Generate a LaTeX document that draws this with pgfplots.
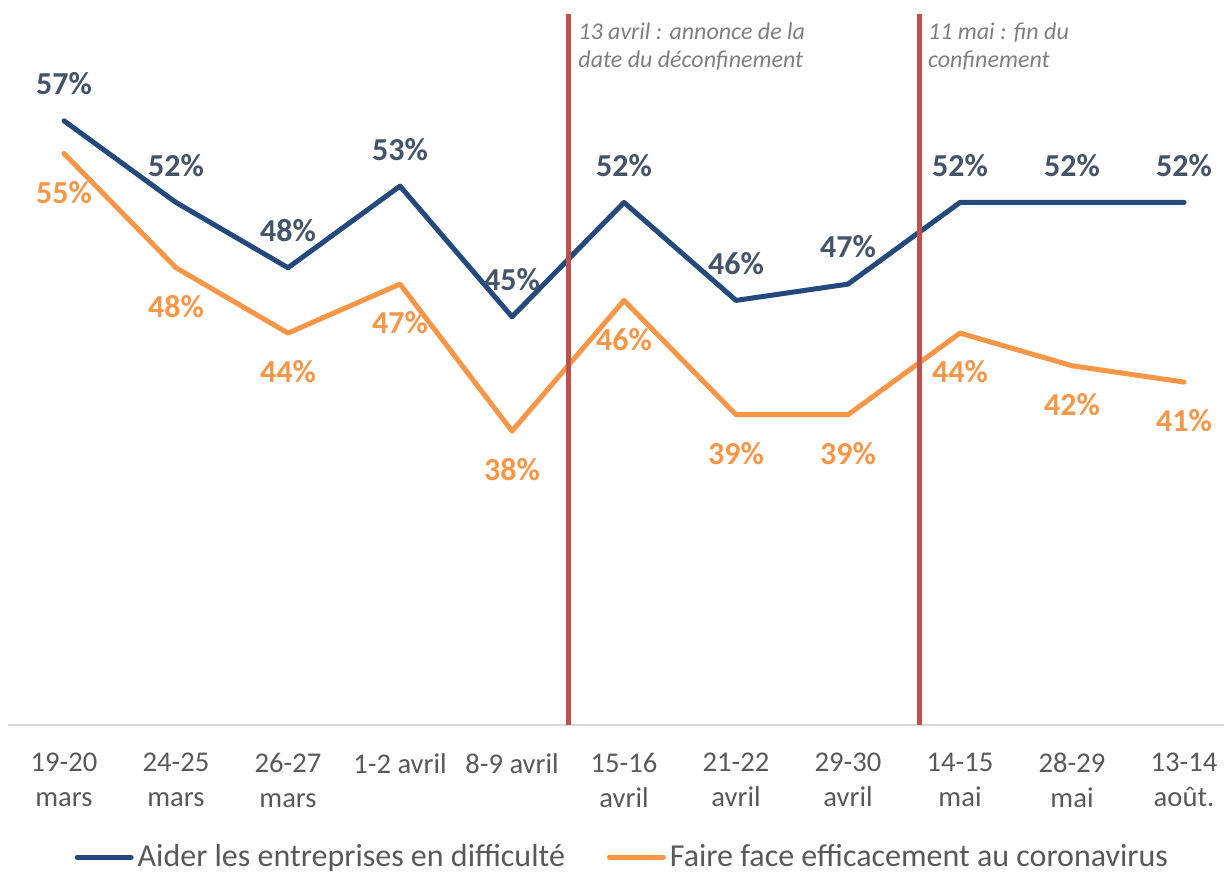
\documentclass[border=0pt]{standalone}
\usepackage{pgfplots}
\pgfplotsset{compat=1.18}
\usepackage{fontspec}
\setmainfont{Carlito}
\definecolor{bline}{RGB}{35,73,125}
\definecolor{blab}{RGB}{68,84,106}
\definecolor{oline}{RGB}{247,150,70}
\definecolor{redl}{RGB}{192,80,77}
\definecolor{tickc}{RGB}{89,89,89}
\definecolor{annc}{RGB}{127,127,127}
\definecolor{axc}{RGB}{217,217,217}
\begin{document}
\begin{tikzpicture}
\begin{axis}[
  at={(0,0)}, anchor=south west, scale only axis,
  width=608pt, height=355.5pt,
  xmin=-0.5, xmax=10.357, ymin=20, ymax=63.54,
  axis x line*=bottom, axis y line=none,
  x axis line style={-, draw=axc, line width=1pt},
  ytick=\empty,
  xtick={0,...,10}, major tick length=0pt,
  xticklabels={{19-20\\mars},{24-25\\mars},{26-27\\mars},{1-2 avril},{8-9 avril},{15-16\\avril},{21-22\\avril},{29-30\\avril},{14-15\\mai},{28-29\\mai},{13-14\\août.}},
  xticklabel style={align=center, anchor=north, inner sep=0pt, yshift=-14pt, text=tickc, font=\fontsize{14.3}{17.5}\selectfont},
  /pgf/number format/assume math mode=true,
  legend columns=2,
  legend style={at={(0.506,-0.186)}, anchor=center, draw=none, fill=none, text=tickc,
    font=\fontsize{16}{19}\selectfont, inner sep=0pt,
    /tikz/every even column/.append style={column sep=19pt}},
  legend image code/.code={\draw[#1, line cap=round] (0pt,0pt) -- (27pt,0pt);},
]
\addplot[bline, line width=2.5pt, line join=round, line cap=round, mark=none,
  point meta=y, nodes near coords={\pgfmathprintnumber{\pgfplotspointmeta}\%},
  every node near coord/.append style={anchor=center, yshift=18.5pt, text=blab, font=\fontsize{16}{19}\selectfont\bfseries}]
  coordinates {(0,57) (1,52) (2,48) (3,53) (4,45) (5,52) (6,46) (7,47) (8,52) (9,52) (10,52)};
\addlegendentry{Aider les entreprises en difficulté}
\addplot[oline, line width=2.5pt, line join=round, line cap=round, mark=none,
  point meta=y, nodes near coords={\pgfmathprintnumber{\pgfplotspointmeta}\%},
  every node near coord/.append style={anchor=center, yshift=-19.5pt, text=oline, font=\fontsize{16}{19}\selectfont\bfseries}]
  coordinates {(0,55) (1,48) (2,44) (3,47) (4,38) (5,46) (6,39) (7,39) (8,44) (9,42) (10,41)};
\addlegendentry{Faire face efficacement au coronavirus}
\addplot[redl, line width=2.5pt, forget plot] coordinates {(4.5,20) (4.5,63.54)};
\addplot[redl, line width=2.5pt, forget plot] coordinates {(7.64,20) (7.64,63.54)};
\node[anchor=north west, inner sep=0pt, align=left, text=annc, font=\fontsize{12}{14}\selectfont\itshape, xshift=5pt] at (axis cs:4.5,63.05) {13 avril : annonce de la\\date du déconfinement};
\node[anchor=north west, inner sep=0pt, align=left, text=annc, font=\fontsize{12}{14}\selectfont\itshape, xshift=4pt] at (axis cs:7.64,63.05) {11 mai : fin du\\confinement};
\end{axis}
\pgfresetboundingbox
\path[use as bounding box] (-4pt,-73.5pt) rectangle (608pt,362.5pt);
\end{tikzpicture}
\end{document}
